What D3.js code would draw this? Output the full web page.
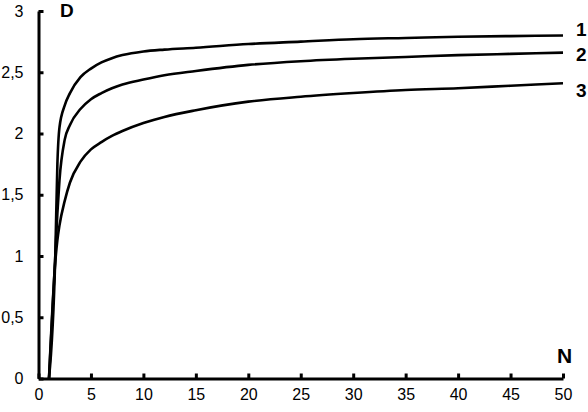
<!DOCTYPE html>
<html><head><meta charset="utf-8">
<script src="https://cdn.jsdelivr.net/npm/d3@7"></script>
<style>body{margin:0;background:#fff}svg{display:block}text{font-family:"Liberation Sans",Arial,sans-serif}</style>
</head><body><svg id="c" width="588" height="412"></svg>
<script>
const N = [1, 1.6, 1.8, 2, 2.5, 3, 4, 5, 6, 7, 8, 10, 12, 15, 20, 25, 30, 35, 40, 45, 50];
const D1 = [0, 1.0, 1.75, 2.05, 2.23, 2.33, 2.46, 2.53, 2.58, 2.615, 2.64, 2.67, 2.685, 2.70, 2.73, 2.75, 2.77, 2.78, 2.79, 2.795, 2.80];
const D2 = [0, 1.0, 1.35, 1.62, 1.95, 2.07, 2.20, 2.28, 2.33, 2.37, 2.40, 2.44, 2.475, 2.51, 2.56, 2.59, 2.61, 2.625, 2.64, 2.65, 2.66];
const D3 = [0, 0.95, 1.13, 1.25, 1.45, 1.60, 1.77, 1.87, 1.93, 1.98, 2.02, 2.085, 2.135, 2.19, 2.26, 2.30, 2.33, 2.355, 2.37, 2.39, 2.41];
const seriesNames = ["1", "2", "3"];
const xTicks = [0, 5, 10, 15, 20, 25, 30, 35, 40, 45, 50];
const yTicks = [0, 0.5, 1, 1.5, 2, 2.5, 3];
const xTitle = "N", yTitle = "D";

const svg = d3.select("#c");
const x = d3.scaleLinear().domain([0, 50]).range([38.5, 563]);
const y = d3.scaleLinear().domain([0, 3]).range([378.5, 11]);
const fmt = d => String(d).replace(".", ",");

const xa = svg.append("g").attr("transform", `translate(0,${y(0)})`)
  .call(d3.axisBottom(x).tickValues(xTicks).tickSizeInner(-5).tickSizeOuter(0).tickPadding(21).tickFormat(fmt));
const ya = svg.append("g").attr("transform", `translate(${x(0)},0)`)
  .call(d3.axisLeft(y).tickValues(yTicks).tickSizeInner(-5).tickSizeOuter(0).tickPadding(15).tickFormat(fmt));
[xa, ya].forEach(a => {
  a.select(".domain").attr("stroke", "#000").attr("stroke-width", 3);
  a.selectAll(".tick line").attr("stroke", "#000").attr("stroke-width", 3);
  a.selectAll(".tick text").attr("fill", "#000").style("font-size", "16px").style("font-family", "Liberation Sans, Arial, sans-serif");
});
xa.selectAll(".tick text").attr("dy", "0");

const line = d3.line().x((d, i) => x(N[i])).y(d => y(d)).curve(d3.curveMonotoneX);
const labelOffsets = [-5, 3, 9];
[D1, D2, D3].forEach((s, k) => {
  svg.append("path").datum(s).attr("d", line).attr("fill", "none")
    .attr("stroke", "#000").attr("stroke-width", 2.6).attr("stroke-linejoin", "round");
  svg.append("text").attr("x", 576).attr("y", y(s[s.length - 1]) + labelOffsets[k])
    .attr("dominant-baseline", "middle").style("font-size", "19px").style("font-weight", "bold").text(seriesNames[k]);
});
svg.append("text").attr("x", 60).attr("y", 17).style("font-size", "19px").style("font-weight", "bold").text(yTitle);
svg.append("text").attr("x", 557).attr("y", 363).style("font-size", "21px").style("font-weight", "bold").text(xTitle);
</script></body></html>
